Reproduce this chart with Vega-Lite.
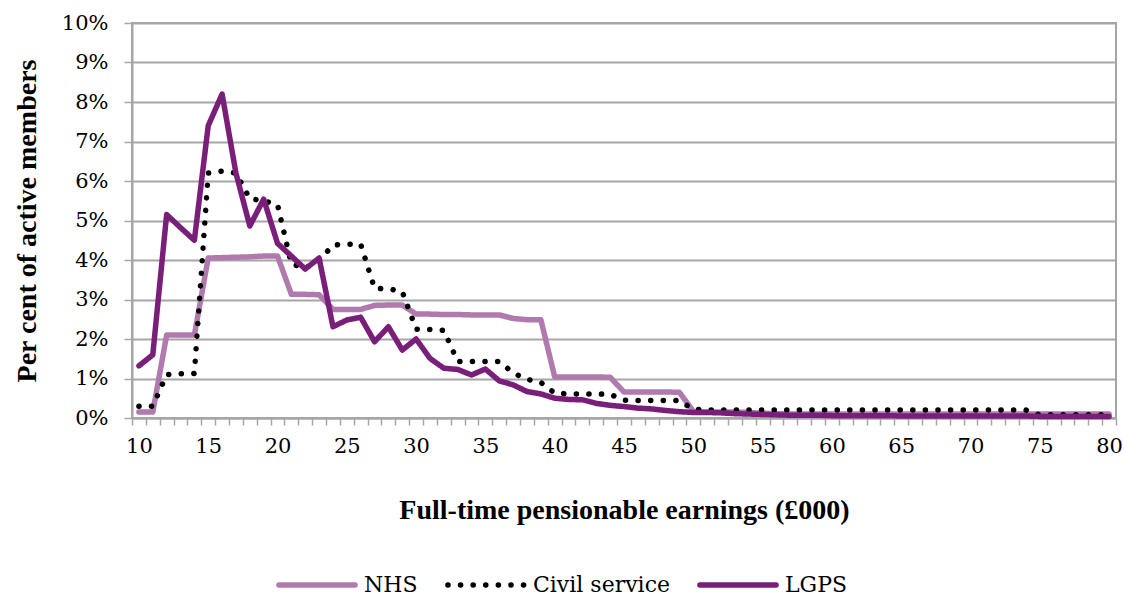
{
  "$schema": "https://vega.github.io/schema/vega-lite/v6.json",
  "width": 984,
  "height": 395,
  "autosize": "none",
  "padding": {"left": 132, "top": 23, "right": 8, "bottom": 178},
  "background": "white",
  "config": {
    "view": {"stroke": "#a6a6a6", "strokeWidth": 2}
  },
  "data": {
    "values": [
      {"x": 10, "NHS": 0.15, "Civil service": 0.3, "LGPS": 1.32},
      {"x": 11, "NHS": 0.15, "Civil service": 0.3, "LGPS": 1.6},
      {"x": 12, "NHS": 2.1, "Civil service": 1.1, "LGPS": 5.15},
      {"x": 13, "NHS": 2.1, "Civil service": 1.12, "LGPS": 4.82},
      {"x": 14, "NHS": 2.1, "Civil service": 1.13, "LGPS": 4.5},
      {"x": 15, "NHS": 4.05, "Civil service": 6.2, "LGPS": 7.4},
      {"x": 16, "NHS": 4.06, "Civil service": 6.25, "LGPS": 8.2},
      {"x": 17, "NHS": 4.07, "Civil service": 6.2, "LGPS": 6.2},
      {"x": 18, "NHS": 4.08, "Civil service": 5.55, "LGPS": 4.86},
      {"x": 19, "NHS": 4.1, "Civil service": 5.5, "LGPS": 5.54},
      {"x": 20, "NHS": 4.1, "Civil service": 5.4, "LGPS": 4.42},
      {"x": 21, "NHS": 3.13, "Civil service": 3.9, "LGPS": 4.1},
      {"x": 22, "NHS": 3.13, "Civil service": 3.8, "LGPS": 3.77},
      {"x": 23, "NHS": 3.12, "Civil service": 3.98, "LGPS": 4.05},
      {"x": 24, "NHS": 2.75, "Civil service": 4.38, "LGPS": 2.31},
      {"x": 25, "NHS": 2.75, "Civil service": 4.4, "LGPS": 2.48},
      {"x": 26, "NHS": 2.75, "Civil service": 4.4, "LGPS": 2.55},
      {"x": 27, "NHS": 2.85, "Civil service": 3.28, "LGPS": 1.93},
      {"x": 28, "NHS": 2.86, "Civil service": 3.27, "LGPS": 2.31},
      {"x": 29, "NHS": 2.86, "Civil service": 3.2, "LGPS": 1.72},
      {"x": 30, "NHS": 2.63, "Civil service": 2.25, "LGPS": 2.0},
      {"x": 31, "NHS": 2.63, "Civil service": 2.24, "LGPS": 1.51},
      {"x": 32, "NHS": 2.62, "Civil service": 2.22, "LGPS": 1.26},
      {"x": 33, "NHS": 2.62, "Civil service": 1.43, "LGPS": 1.23},
      {"x": 34, "NHS": 2.61, "Civil service": 1.43, "LGPS": 1.09},
      {"x": 35, "NHS": 2.61, "Civil service": 1.43, "LGPS": 1.24},
      {"x": 36, "NHS": 2.61, "Civil service": 1.43, "LGPS": 0.94},
      {"x": 37, "NHS": 2.52, "Civil service": 1.14, "LGPS": 0.84},
      {"x": 38, "NHS": 2.49, "Civil service": 0.98, "LGPS": 0.67},
      {"x": 39, "NHS": 2.49, "Civil service": 0.9, "LGPS": 0.61},
      {"x": 40, "NHS": 1.04, "Civil service": 0.63, "LGPS": 0.5},
      {"x": 41, "NHS": 1.04, "Civil service": 0.61, "LGPS": 0.47},
      {"x": 42, "NHS": 1.04, "Civil service": 0.61, "LGPS": 0.46},
      {"x": 43, "NHS": 1.04, "Civil service": 0.61, "LGPS": 0.37},
      {"x": 44, "NHS": 1.03, "Civil service": 0.6, "LGPS": 0.32},
      {"x": 45, "NHS": 0.66, "Civil service": 0.45, "LGPS": 0.29},
      {"x": 46, "NHS": 0.66, "Civil service": 0.44, "LGPS": 0.25},
      {"x": 47, "NHS": 0.66, "Civil service": 0.44, "LGPS": 0.23},
      {"x": 48, "NHS": 0.66, "Civil service": 0.44, "LGPS": 0.19},
      {"x": 49, "NHS": 0.65, "Civil service": 0.44, "LGPS": 0.16},
      {"x": 50, "NHS": 0.17, "Civil service": 0.22, "LGPS": 0.14},
      {"x": 51, "NHS": 0.15, "Civil service": 0.2, "LGPS": 0.14},
      {"x": 52, "NHS": 0.15, "Civil service": 0.2, "LGPS": 0.13},
      {"x": 53, "NHS": 0.15, "Civil service": 0.2, "LGPS": 0.11},
      {"x": 54, "NHS": 0.14, "Civil service": 0.2, "LGPS": 0.1},
      {"x": 55, "NHS": 0.12, "Civil service": 0.2, "LGPS": 0.09},
      {"x": 56, "NHS": 0.11, "Civil service": 0.2, "LGPS": 0.08},
      {"x": 57, "NHS": 0.1, "Civil service": 0.2, "LGPS": 0.07},
      {"x": 58, "NHS": 0.1, "Civil service": 0.2, "LGPS": 0.07},
      {"x": 59, "NHS": 0.1, "Civil service": 0.2, "LGPS": 0.07},
      {"x": 60, "NHS": 0.1, "Civil service": 0.2, "LGPS": 0.06},
      {"x": 61, "NHS": 0.1, "Civil service": 0.2, "LGPS": 0.06},
      {"x": 62, "NHS": 0.1, "Civil service": 0.2, "LGPS": 0.06},
      {"x": 63, "NHS": 0.1, "Civil service": 0.2, "LGPS": 0.06},
      {"x": 64, "NHS": 0.1, "Civil service": 0.2, "LGPS": 0.06},
      {"x": 65, "NHS": 0.1, "Civil service": 0.2, "LGPS": 0.05},
      {"x": 66, "NHS": 0.1, "Civil service": 0.2, "LGPS": 0.05},
      {"x": 67, "NHS": 0.1, "Civil service": 0.2, "LGPS": 0.05},
      {"x": 68, "NHS": 0.1, "Civil service": 0.2, "LGPS": 0.05},
      {"x": 69, "NHS": 0.1, "Civil service": 0.2, "LGPS": 0.05},
      {"x": 70, "NHS": 0.1, "Civil service": 0.2, "LGPS": 0.05},
      {"x": 71, "NHS": 0.1, "Civil service": 0.2, "LGPS": 0.05},
      {"x": 72, "NHS": 0.1, "Civil service": 0.2, "LGPS": 0.05},
      {"x": 73, "NHS": 0.1, "Civil service": 0.2, "LGPS": 0.05},
      {"x": 74, "NHS": 0.1, "Civil service": 0.2, "LGPS": 0.05},
      {"x": 75, "NHS": 0.1, "Civil service": 0.08, "LGPS": 0.04},
      {"x": 76, "NHS": 0.1, "Civil service": 0.08, "LGPS": 0.04},
      {"x": 77, "NHS": 0.1, "Civil service": 0.08, "LGPS": 0.04},
      {"x": 78, "NHS": 0.1, "Civil service": 0.08, "LGPS": 0.04},
      {"x": 79, "NHS": 0.1, "Civil service": 0.08, "LGPS": 0.04},
      {"x": 80, "NHS": 0.1, "Civil service": 0.08, "LGPS": 0.04}
    ]
  },
  "transform": [
    {"fold": ["NHS", "Civil service", "LGPS"], "as": ["scheme", "pct"]}
  ],
  "mark": {"type": "line", "strokeWidth": 5.5, "strokeCap": "round", "strokeJoin": "round"},
  "encoding": {
    "x": {
      "field": "x",
      "type": "quantitative",
      "scale": {"domain": [9.5, 80.5], "nice": false, "zero": false},
      "axis": {
        "title": "Full-time pensionable earnings (£000)",
        "titleFont": "Liberation Serif",
        "titleFontSize": 28,
        "titleFontWeight": "bold",
        "titleColor": "black",
        "titlePadding": 40,
        "values": [9.5, 10, 10.5, 11.5, 12.5, 13.5, 14.5, 15, 15.5, 16.5, 17.5, 18.5, 19.5, 20, 20.5, 21.5, 22.5, 23.5, 24.5, 25, 25.5, 26.5, 27.5, 28.5, 29.5, 30, 30.5, 31.5, 32.5, 33.5, 34.5, 35, 35.5, 36.5, 37.5, 38.5, 39.5, 40, 40.5, 41.5, 42.5, 43.5, 44.5, 45, 45.5, 46.5, 47.5, 48.5, 49.5, 50, 50.5, 51.5, 52.5, 53.5, 54.5, 55, 55.5, 56.5, 57.5, 58.5, 59.5, 60, 60.5, 61.5, 62.5, 63.5, 64.5, 65, 65.5, 66.5, 67.5, 68.5, 69.5, 70, 70.5, 71.5, 72.5, 73.5, 74.5, 75, 75.5, 76.5, 77.5, 78.5, 79.5, 80, 80.5],
        "labelExpr": "datum.value % 5 == 0 ? datum.label : ''",
        "labelOverlap": false,
        "labelFlush": false,
        "labelBound": false,
        "labelFont": "DejaVu Serif",
        "labelFontSize": 21,
        "labelColor": "black",
        "labelPadding": 10,
        "grid": false,
        "domainColor": "#a6a6a6",
        "domainWidth": 2,
        "tickColor": "#a6a6a6",
        "tickWidth": 1.5,
        "tickSize": 7,
        "tickOpacity": {"condition": {"test": "datum.value % 1 == 0", "value": 0}, "value": 1}
      }
    },
    "y": {
      "field": "pct",
      "type": "quantitative",
      "scale": {"domain": [0, 10], "nice": false},
      "axis": {
        "title": "Per cent of active members",
        "titleFont": "Liberation Serif",
        "titleFontSize": 28,
        "titleFontWeight": "bold",
        "titleColor": "black",
        "titlePadding": 20,
        "values": [0, 1, 2, 3, 4, 5, 6, 7, 8, 9, 10],
        "labelExpr": "datum.value + '%'",
        "labelFont": "DejaVu Serif",
        "labelFontSize": 21,
        "labelColor": "black",
        "labelPadding": 16,
        "labelFlush": false,
        "grid": true,
        "gridColor": "#a6a6a6",
        "gridWidth": 2,
        "domainColor": "#a6a6a6",
        "domainWidth": 2,
        "tickColor": "#a6a6a6",
        "tickWidth": 1.5,
        "tickSize": 8
      }
    },
    "color": {
      "field": "scheme",
      "type": "nominal",
      "scale": {"domain": ["NHS", "Civil service", "LGPS"], "range": ["#b07aae", "#000000", "#7a1f79"]},
      "legend": {
        "title": null,
        "orient": "none",
        "legendX": 144,
        "legendY": 521,
        "direction": "horizontal",
        "symbolType": "stroke",
        "symbolSize": 5800,
        "symbolStrokeWidth": 5.5,
        "labelFont": "DejaVu Serif",
        "labelFontSize": 22,
        "labelColor": "black",
        "labelOffset": 6,
        "columnPadding": 18,
        "encode": {"symbols": {"update": {"strokeCap": {"value": "round"}}}}
      }
    },
    "strokeDash": {
      "field": "scheme",
      "type": "nominal",
      "scale": {"domain": ["NHS", "Civil service", "LGPS"], "range": [[1, 0], [0.1, 12.5], [1, 0]]},
      "legend": {
        "title": null,
        "orient": "none",
        "legendX": 144,
        "legendY": 521,
        "direction": "horizontal",
        "symbolType": "stroke",
        "symbolSize": 5800,
        "symbolStrokeWidth": 5.5,
        "labelFont": "DejaVu Serif",
        "labelFontSize": 22,
        "labelColor": "black",
        "labelOffset": 6,
        "columnPadding": 18,
        "encode": {"symbols": {"update": {"strokeCap": {"value": "round"}}}}
      }
    }
  }
}
